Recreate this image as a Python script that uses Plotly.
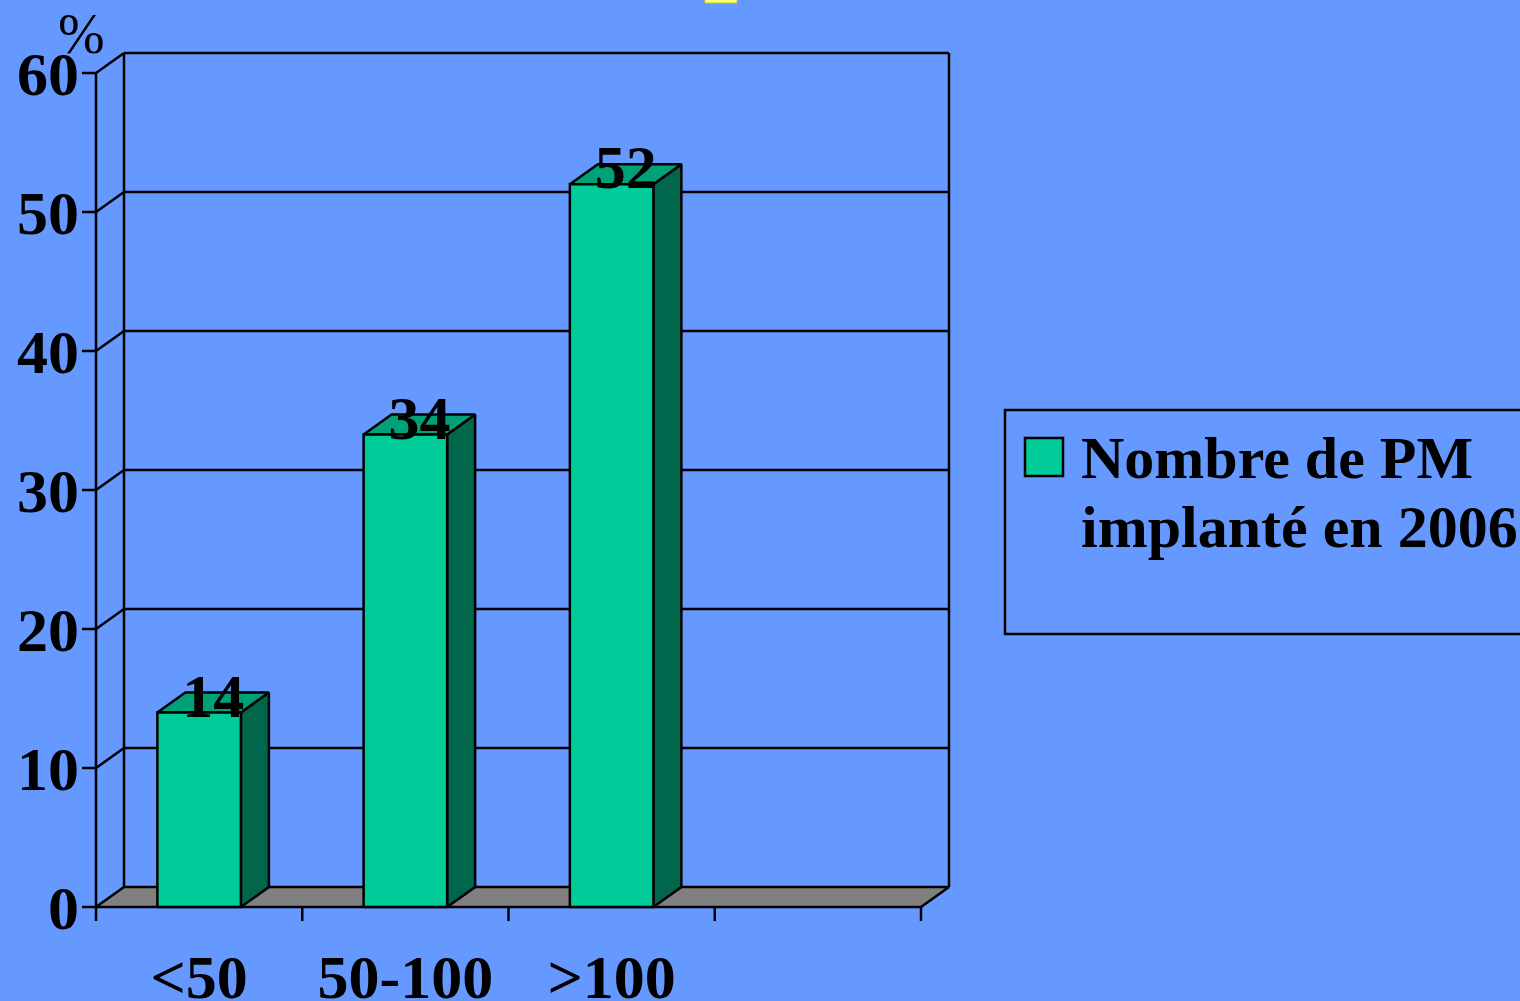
import plotly.graph_objects as go

# ---------------- data ----------------
categories = ["<50", "50-100", ">100", ""]
values = [14, 34, 52]
y_ticks = [0, 10, 20, 30, 40, 50, 60]
series_line1 = "Nombre de PM"
series_line2 = "implanté en 2006"
y_unit = "%"

# ---------------- styling / geometry ----------------
W, H = 1520, 1001
BG = "#6699FF"
FRONT = "#00CC99"
TOP = "#00A079"
SIDE = "#00664C"
FLOOR = "#808080"
FONT = "Liberation Serif"
FS = 62
LEG_FS = 60
LW = 2.5

X0_PX, X4_PX = 96, 921      # front x pixel of slot boundaries 0 and 4
Y0_PX, Y60_PX = 907, 73     # front y pixel of 0 and 60
DX_PX, DY_PX = 28, 20       # depth offset
n_slots = len(categories)
ymax = y_ticks[-1]

px_x = (X4_PX - X0_PX) / n_slots
px_y = (Y0_PX - Y60_PX) / ymax
dx = DX_PX / px_x
dy = DY_PX / px_y

L_PX, R_PX, T_PX, B_PX = 80, 962, 45, 935
xr = [(L_PX - X0_PX) / px_x, (R_PX - X0_PX) / px_x]
yr = [(Y0_PX - B_PX) / px_y, (Y0_PX - T_PX) / px_y]

fig = go.Figure()

# floor
fig.add_trace(go.Scatter(
    x=[0, n_slots, n_slots + dx, dx, 0], y=[0, 0, dy, dy, 0],
    mode="lines", fill="toself", fillcolor=FLOOR,
    line=dict(color="black", width=LW), hoverinfo="skip", showlegend=False))

# wall lines, gridlines, ticks
lx, ly = [], []
def seg(x1, y1, x2, y2):
    lx.extend([x1, x2, None]); ly.extend([y1, y2, None])

for t in y_ticks:
    if t > 0:
        seg(dx, t + dy, n_slots + dx, t + dy)      # back gridline
        seg(0, t, dx, t + dy)                      # left wall diagonal
    seg(-14 / px_x, t, 0, t)                       # y tick
seg(0, 0, 0, ymax)                                 # front y axis
seg(dx, dy, dx, ymax + dy)                         # back-left edge
seg(n_slots + dx, dy, n_slots + dx, ymax + dy)     # back-right edge
for i in range(n_slots + 1):
    seg(i, 0, i, -14 / px_y)                       # x ticks

fig.add_trace(go.Scatter(x=lx, y=ly, mode="lines",
                         line=dict(color="black", width=LW),
                         hoverinfo="skip", showlegend=False))

# bars
bw = 0.405
for i, v in enumerate(values):
    c = i + 0.5
    l, r = c - bw / 2, c + bw / 2
    fig.add_trace(go.Scatter(x=[r, r + dx, r + dx, r, r], y=[0, dy, v + dy, v, 0],
                             mode="lines", fill="toself", fillcolor=SIDE,
                             line=dict(color="black", width=LW),
                             hoverinfo="skip", showlegend=False))
    fig.add_trace(go.Scatter(x=[l, r, r + dx, l + dx, l], y=[v, v, v + dy, v + dy, v],
                             mode="lines", fill="toself", fillcolor=TOP,
                             line=dict(color="black", width=LW),
                             hoverinfo="skip", showlegend=False))
    fig.add_trace(go.Scatter(x=[l, r, r, l, l], y=[0, 0, v, v, 0],
                             mode="lines", fill="toself", fillcolor=FRONT,
                             line=dict(color="black", width=LW),
                             hoverinfo="skip", showlegend=False))

# value labels
fig.add_trace(go.Scatter(
    x=[i + 0.5 + dx / 2 for i in range(len(values))],
    y=[v + dy / 2 + 0.1 for v in values],
    text=[str(v) for v in values], mode="text", textposition="middle center",
    textfont=dict(family=FONT, size=FS, color="black", weight="bold"),
    hoverinfo="skip", showlegend=False, cliponaxis=False))

fig.update_layout(
    width=W, height=H,
    margin=dict(l=L_PX, r=W - R_PX, t=T_PX, b=H - B_PX, pad=0, autoexpand=False),
    paper_bgcolor=BG, plot_bgcolor=BG,
    showlegend=False,
    xaxis=dict(range=xr, tickvals=[i + 0.5 for i in range(n_slots)], ticktext=categories,
               showgrid=False, zeroline=False, showline=False, ticks="",
               automargin=False,
               tickfont=dict(family=FONT, size=FS, color="black", weight="bold"),
               fixedrange=True),
    yaxis=dict(range=yr, tickvals=y_ticks, ticktext=[str(t) for t in y_ticks],
               showgrid=False, zeroline=False, showline=False, ticks="",
               automargin=False,
               tickfont=dict(family=FONT, size=FS, color="black", weight="bold"),
               fixedrange=True),
)

def px2paper_x(p):
    return (p - L_PX) / (R_PX - L_PX)
def px2paper_y(p):
    return (B_PX - p) / (B_PX - T_PX)

# unit label
fig.add_annotation(xref="paper", yref="paper", x=px2paper_x(81), y=px2paper_y(34),
                   xanchor="center", yanchor="middle", showarrow=False, text=y_unit,
                   font=dict(family=FONT, size=56, color="black"))

# custom legend
fig.add_shape(type="rect", xref="paper", yref="paper",
              x0=px2paper_x(1005), x1=px2paper_x(1540),
              y0=px2paper_y(634), y1=px2paper_y(410),
              line=dict(color="black", width=LW), fillcolor="rgba(0,0,0,0)")
fig.add_shape(type="rect", xref="paper", yref="paper",
              x0=px2paper_x(1025), x1=px2paper_x(1063),
              y0=px2paper_y(476), y1=px2paper_y(438),
              line=dict(color="black", width=LW), fillcolor=FRONT)
fig.add_annotation(xref="paper", yref="paper", x=px2paper_x(1079), y=px2paper_y(458),
                   xanchor="left", yanchor="middle", showarrow=False, text=series_line1,
                   font=dict(family=FONT, size=LEG_FS, color="black", weight="bold"))
fig.add_annotation(xref="paper", yref="paper", x=px2paper_x(1079), y=px2paper_y(527),
                   xanchor="left", yanchor="middle", showarrow=False, text=series_line2,
                   font=dict(family=FONT, size=LEG_FS, color="black", weight="bold"))

# fragment of yellow title box at top
fig.add_shape(type="rect", xref="paper", yref="paper",
              x0=px2paper_x(705), x1=px2paper_x(737),
              y0=px2paper_y(3), y1=px2paper_y(-5),
              line=dict(color="#C8C860", width=1), fillcolor="#FFFF66")

fig.write_html("out.html")
